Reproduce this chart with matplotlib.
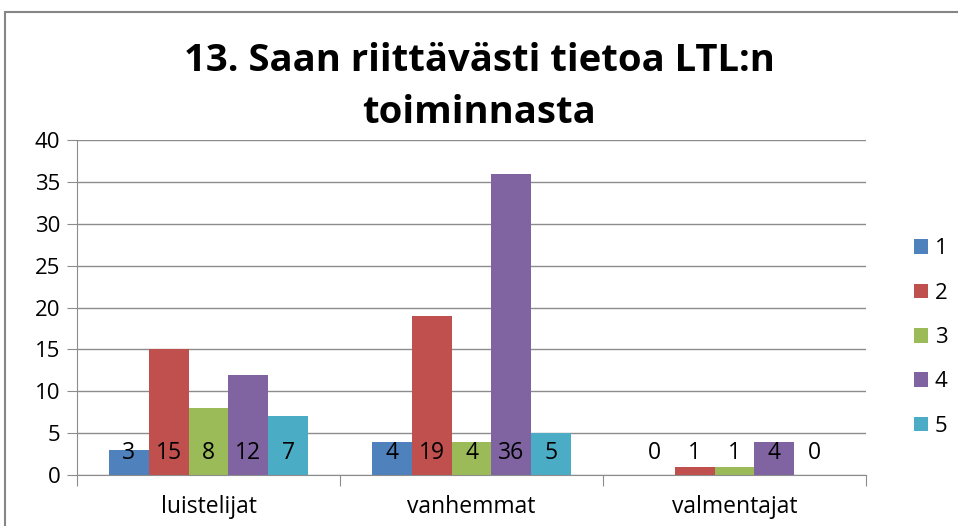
import numpy as np
import matplotlib.pyplot as plt
from matplotlib.patches import Rectangle

categories = ["luistelijat", "vanhemmat", "valmentajat"]
series_names = ["1", "2", "3", "4", "5"]
values = {
    "1": [3, 4, 0],
    "2": [15, 19, 1],
    "3": [8, 4, 1],
    "4": [12, 36, 4],
    "5": [7, 5, 0],
}
colors = ["#4F81BD", "#C0504D", "#9BBB59", "#8064A2", "#4BACC6"]
title = "13. Saan riittävästi tietoa LTL:n\ntoiminnasta"

plt.rcParams['font.family'] = ['Open Sans', 'DejaVu Sans']

fig = plt.figure(figsize=(9.58, 5.26), dpi=100)
# outer chart frame
fig.patches.append(Rectangle((0.005, -0.1), 1.2, 1.1 - 12 / 526, transform=fig.transFigure,
                             fill=False, edgecolor="#868686", linewidth=1.5))

ax = fig.add_axes([77 / 958, 1 - 475 / 526, 789 / 958, 335 / 526])

x = np.arange(len(categories))
w = 0.152
for i, name in enumerate(series_names):
    pos = x + (i - 2) * w
    ax.bar(pos, values[name], width=w, color=colors[i], label=name, zorder=2)
    for px, v in zip(pos, values[name]):
        ax.text(px, 2.6, str(v), ha="center", va="center", fontsize=16.5, color="black", zorder=3)

ax.set_xlim(-0.5, len(categories) - 0.5)
ax.set_ylim(0, 40)
ax.set_yticks(range(0, 41, 5))
ax.yaxis.grid(True, color="#8c8c8c", linewidth=1, zorder=0)
ax.set_axisbelow(True)
for s in ["top", "right"]:
    ax.spines[s].set_visible(False)
ax.spines["left"].set_color("#8c8c8c")
ax.spines["bottom"].set_color("#8c8c8c")
ax.tick_params(axis="y", length=7, color="#8c8c8c", labelsize=16, pad=5)
ax.set_xticks(np.arange(-0.5, len(categories), 1.0))
ax.set_xticklabels([])
ax.tick_params(axis="x", length=8, color="#8c8c8c")
for i, c in enumerate(categories):
    ax.text(i, -3.8, c, ha="center", va="center", fontsize=16.5)

ax.legend(loc="center left", bbox_to_anchor=(1.035, 0.41), frameon=False, fontsize=16,
          handlelength=0.65, handleheight=0.65, handletextpad=0.3, labelspacing=1.05)

fig.text(0.5, 1 - 87 / 526, title, ha="center", va="center", fontsize=27.5, fontweight="bold",
         linespacing=1.45)

fig.savefig("out.png", dpi=100)
